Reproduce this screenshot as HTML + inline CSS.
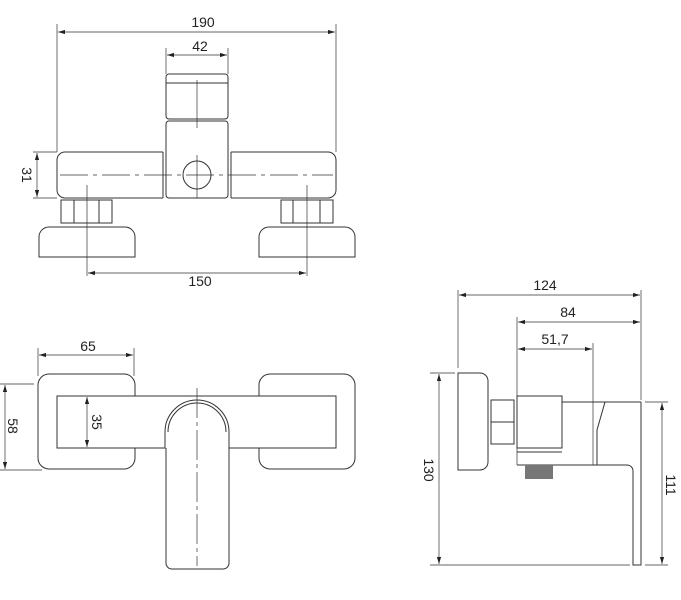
<!DOCTYPE html>
<html><head><style>html,body{margin:0;padding:0;background:#fff}svg{display:block}text{font-family:"Liberation Sans",sans-serif;font-size:14px;fill:#222}</style></head><body>
<svg width="681" height="600" viewBox="0 0 681 600" xmlns="http://www.w3.org/2000/svg">
<defs><marker id="a" viewBox="0 0 10 6" refX="10" refY="3" markerWidth="10" markerHeight="6" orient="auto-start-reverse"><path d="M0,0L10,3L0,6z" fill="#222"/></marker></defs>
<g fill="none" stroke="#333" stroke-width="1">
<g stroke-width="0.7">
<line x1="57" y1="24" x2="57" y2="152"/><line x1="336" y1="24" x2="336" y2="152"/>
<line x1="58" y1="32" x2="335" y2="32" marker-start="url(#a)" marker-end="url(#a)"/>
<line x1="166" y1="48" x2="166" y2="74"/><line x1="228" y1="48" x2="228" y2="74"/>
<line x1="167" y1="55" x2="227" y2="55" marker-start="url(#a)" marker-end="url(#a)"/>
<line x1="33" y1="152" x2="57" y2="152"/><line x1="33" y1="198" x2="57" y2="198"/>
<line x1="37" y1="153" x2="37" y2="197" marker-start="url(#a)" marker-end="url(#a)"/>
<line x1="88" y1="273" x2="306" y2="273" marker-start="url(#a)" marker-end="url(#a)"/>
<line x1="87" y1="185" x2="87" y2="276"/><line x1="307" y1="185" x2="307" y2="276"/>
<line x1="197" y1="80" x2="197" y2="128"/><line x1="197" y1="155" x2="197" y2="198"/>
<line x1="60" y1="175" x2="333" y2="175" stroke-dasharray="28,5,4,5"/>
</g>
<rect x="166" y="74" width="62" height="45" rx="3"/><line x1="166" y1="83" x2="228" y2="83"/>
<rect x="166" y="121" width="62" height="77" rx="3"/>
<path d="M163,152H65a8,8 0 0 0-8,8V190a8,8 0 0 0 8,8H163M231,152H328a8,8 0 0 1 8,8V190a8,8 0 0 1-8,8H231"/>
<line x1="163" y1="152" x2="163" y2="198"/><line x1="231" y1="152" x2="231" y2="198"/>
<circle cx="197" cy="175" r="14"/>
<rect x="61" y="200" width="51" height="23"/><line x1="74" y1="200" x2="74" y2="223"/><line x1="99" y1="200" x2="99" y2="223"/>
<rect x="281" y="200" width="52" height="23"/><line x1="293" y1="200" x2="293" y2="223"/><line x1="320" y1="200" x2="320" y2="223"/>
<path d="M39,257V237a10,10 0 0 1 10-10H125a10,10 0 0 1 10,10V257Z"/>
<path d="M259,257V237a10,10 0 0 1 10-10H345a10,10 0 0 1 10,10V257Z"/>
<rect x="38" y="374" width="97" height="95" rx="11"/>
<rect x="259" y="374" width="96" height="95" rx="11"/>
<rect x="57" y="396" width="279" height="52" fill="#fff"/>
<path d="M166,448V563a6,6 0 0 0 6,6H223a6,6 0 0 0 6-6V432a32,32 0 0 0-64,0V448" fill="#fff"/>
<path d="M168,432a29,29 0 0 1 58,0"/>
<g stroke-width="0.7">
<line x1="38" y1="348" x2="38" y2="376"/><line x1="134" y1="348" x2="134" y2="376"/>
<line x1="39" y1="355" x2="133" y2="355" marker-start="url(#a)" marker-end="url(#a)"/>
<line x1="0" y1="384" x2="34" y2="384"/><line x1="0" y1="470" x2="42" y2="470"/>
<line x1="5" y1="385" x2="5" y2="469" marker-start="url(#a)" marker-end="url(#a)"/>
<line x1="87" y1="397" x2="87" y2="447" marker-start="url(#a)" marker-end="url(#a)"/>
<line x1="197" y1="388" x2="197" y2="566" stroke-dasharray="30,4,4,4"/>
</g>
<g stroke-width="0.7">
<line x1="458" y1="290" x2="458" y2="368"/><line x1="641" y1="290" x2="641" y2="400"/>
<line x1="459" y1="295" x2="640" y2="295" marker-start="url(#a)" marker-end="url(#a)"/>
<line x1="517" y1="317" x2="517" y2="465"/>
<line x1="518" y1="322" x2="640" y2="322" marker-start="url(#a)" marker-end="url(#a)"/>
<line x1="593" y1="343" x2="593" y2="465"/>
<line x1="518" y1="349" x2="592" y2="349" marker-start="url(#a)" marker-end="url(#a)"/>
<line x1="430" y1="373" x2="455" y2="373"/><line x1="430" y1="565" x2="630" y2="565"/>
<line x1="439" y1="374" x2="439" y2="564" marker-start="url(#a)" marker-end="url(#a)"/>
<line x1="645" y1="402" x2="668" y2="402"/><line x1="645" y1="565" x2="668" y2="565"/>
<line x1="662" y1="403" x2="662" y2="564" marker-start="url(#a)" marker-end="url(#a)"/>
</g>
<path d="M458,373H480a8,8 0 0 1 8,8V462a8,8 0 0 1-8,8H458Z"/>
<rect x="491" y="400" width="23" height="44"/><line x1="491" y1="422" x2="514" y2="422"/>
<rect x="517" y="396" width="45" height="52"/><line x1="517" y1="452" x2="562" y2="452"/>
<line x1="562" y1="402" x2="641" y2="402"/>
<path d="M593,402L610,402M605,402L597,430V465H627a6,6 0 0 1 6,6V565H641V402"/>
<line x1="517" y1="465" x2="597" y2="465"/>
</g>
<rect x="525" y="465" width="28" height="14" fill="#777"/>
<text x="203" y="27" text-anchor="middle">190</text>
<text x="200" y="51" text-anchor="middle">42</text>
<text x="200" y="286" text-anchor="middle">150</text>
<text x="88" y="351" text-anchor="middle">65</text>
<text x="545" y="290" text-anchor="middle">124</text>
<text x="568" y="317" text-anchor="middle">84</text>
<text x="555" y="344" text-anchor="middle">51,7</text>
<text transform="translate(22,175) rotate(90)" text-anchor="middle">31</text>
<text transform="translate(8,426) rotate(90)" text-anchor="middle">58</text>
<text transform="translate(92,422) rotate(90)" text-anchor="middle">35</text>
<text transform="translate(424,470) rotate(90)" text-anchor="middle">130</text>
<text transform="translate(666,485) rotate(90)" text-anchor="middle">111</text>
</svg>
</body></html>
